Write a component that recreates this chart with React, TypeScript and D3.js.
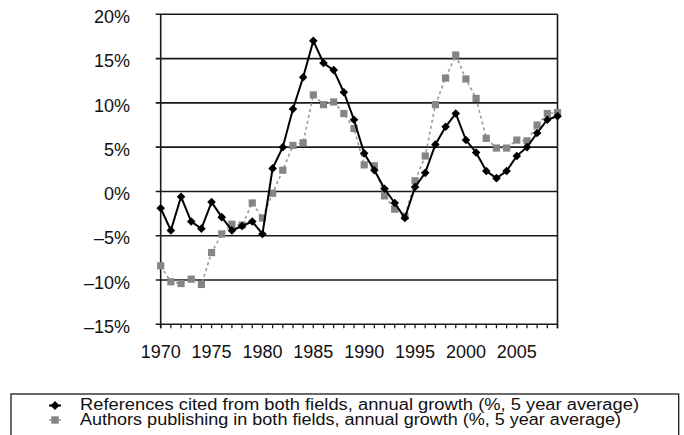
import React from "react";
import * as d3 from "d3";

const years: number[] = d3.range(1970, 2010);

const referencesGrowth: number[] = [
  -1.9, -4.4, -0.6, -3.4, -4.2, -1.2, -2.9, -4.4, -3.9, -3.4,
  -4.8, 2.6, 5.0, 9.3, 12.9, 17.0, 14.5, 13.7, 11.2, 8.1,
  4.3, 2.4, 0.3, -1.3, -3.0, 0.5, 2.1, 5.3, 7.3, 8.8,
  5.8, 4.4, 2.3, 1.5, 2.3, 4.0, 5.0, 6.6, 8.1, 8.5,
];

const authorsGrowth: number[] = [
  -8.4, -10.2, -10.4, -9.9, -10.5, -6.9, -4.8, -3.7, -3.8, -1.3,
  -3.0, -0.2, 2.4, 5.2, 5.5, 10.9, 9.8, 10.1, 8.8, 7.1,
  3.0, 2.9, -0.5, -2.0, -2.8, 1.2, 4.0, 9.8, 12.8, 15.4,
  12.7, 10.5, 6.0, 4.9, 4.9, 5.8, 5.7, 7.5, 8.8, 8.9,
];

const yTicks: number[] = [20, 15, 10, 5, 0, -5, -10, -15];
const xLabelYears: number[] = [1970, 1975, 1980, 1985, 1990, 1995, 2000, 2005];

const legendLabels: string[] = [
  "References cited from both fields, annual growth (%, 5 year average)",
  "Authors publishing in both fields, annual growth (%, 5 year average)",
];

const fmtPct = (v: number) => (v < 0 ? "\u2013" + Math.abs(v) : String(v)) + "%";

export default function App() {
  const W = 684;
  const H = 435;
  const left = 160.7;
  const right = 557.5;
  const top = 14.3;
  const bottom = 324.3;
  const font = "'Liberation Sans', Arial, Helvetica, sans-serif";

  const x = d3.scaleLinear().domain([1970, 2009]).range([left, right]);
  const y = d3.scaleLinear().domain([-15, 20]).range([bottom, top]);

  const line = d3
    .line<number>()
    .x((_, i) => x(years[i]))
    .y((d) => y(d));

  const diamond = (cx: number, cy: number, r: number) =>
    `M${cx},${cy - r}L${cx + r},${cy}L${cx},${cy + r}L${cx - r},${cy}Z`;

  return (
    <svg
      width={W}
      height={H}
      style={{ position: "absolute", left: 0, top: 0, background: "#fff" }}
      fontFamily={font}
    >
      <rect x={0} y={0} width={W} height={H} fill="#fff" />
      {/* gridlines */}
      {yTicks.map((t) => (
        <line
          key={"g" + t}
          x1={left - 5}
          x2={right}
          y1={y(t)}
          y2={y(t)}
          stroke="#1a1a1a"
          strokeWidth={1.6}
        />
      ))}
      {/* axes */}
      <line x1={left} x2={left} y1={top} y2={bottom + 4} stroke="#1a1a1a" strokeWidth={1.6} />
      <line x1={right} x2={right} y1={top} y2={bottom + 4} stroke="#1a1a1a" strokeWidth={1.6} />
      {years.map((yr) => (
        <line
          key={"xt" + yr}
          x1={x(yr)}
          x2={x(yr)}
          y1={bottom}
          y2={bottom + 4}
          stroke="#1a1a1a"
          strokeWidth={1.3}
        />
      ))}
      {/* y labels */}
      {yTicks.map((t) => (
        <text
          key={"yl" + t}
          x={130}
          y={y(t) + 4}
          textAnchor="end"
          dominantBaseline="middle"
          fontSize={18}
          fill="#111"
        >
          {fmtPct(t)}
        </text>
      ))}
      {/* x labels */}
      {xLabelYears.map((yr) => (
        <text
          key={"xl" + yr}
          x={x(yr)}
          y={358}
          textAnchor="middle"
          fontSize={18}
          fill="#111"
        >
          {yr}
        </text>
      ))}
      {/* authors series (gray, dashed) */}
      <path
        d={line(authorsGrowth) || ""}
        fill="none"
        stroke="#9a9a9a"
        strokeWidth={1.6}
        strokeDasharray="3,3"
      />
      {authorsGrowth.map((v, i) => (
        <rect
          key={"a" + i}
          x={x(years[i]) - 3.6}
          y={y(v) - 3.6}
          width={7.2}
          height={7.2}
          fill="#858585"
        />
      ))}
      {/* references series (black, solid) */}
      <path
        d={line(referencesGrowth) || ""}
        fill="none"
        stroke="#000"
        strokeWidth={2}
      />
      {referencesGrowth.map((v, i) => (
        <path key={"r" + i} d={diamond(x(years[i]), y(v), 4.3)} fill="#000" />
      ))}
      {/* legend */}
      <rect x={11} y={394} width={667.7} height={50} fill="#fff" stroke="#1a1a1a" strokeWidth={1.3} />
      <path d={diamond(55, 405.5, 4.5)} fill="#000" />
      <line x1={49} x2={61} y1={405.5} y2={405.5} stroke="#000" strokeWidth={2} />
      <line x1={49} x2={61} y1={420} y2={420} stroke="#9a9a9a" strokeWidth={1.6} />
      <rect x={51.3} y={416.3} width={7.4} height={7.4} fill="#858585" />
      <text
        x={80}
        y={405.5}
        dominantBaseline="middle"
        fontSize={16}
        fill="#111"
        textLength={559}
        lengthAdjust="spacingAndGlyphs"
      >
        {legendLabels[0]}
      </text>
      <text
        x={80}
        y={421}
        dominantBaseline="middle"
        fontSize={16}
        fill="#111"
        textLength={541}
        lengthAdjust="spacingAndGlyphs"
      >
        {legendLabels[1]}
      </text>
    </svg>
  );
}
